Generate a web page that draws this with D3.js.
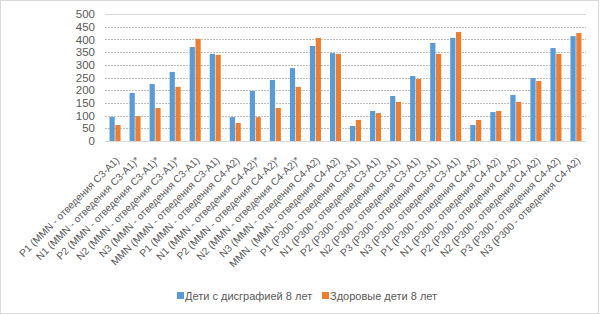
<!DOCTYPE html>
<html>
<head>
<meta charset="utf-8">
<script src="https://cdn.jsdelivr.net/npm/d3@7"></script>
<style>
html,body{margin:0;padding:0;background:#fff;}
svg{display:block;font-family:"Liberation Sans",Arial,sans-serif;}
</style>
</head>
<body>
<svg id="chart" width="600" height="315"></svg>
<script>
const categories = [
  "P1 (MMN - отведения C3-A1)",
  "N1 (MMN - отведения C3-A1)*",
  "P2 (MMN - отведения C3-A1)*",
  "N2 (MMN - отведения C3-A1)*",
  "N3 (MMN - отведения C3-A1)",
  "MMN (MMN - отведения C3-A1)",
  "P1 (MMN - отведения C4-A2)",
  "N1 (MMN - отведения C4-A2)*",
  "P2 (MMN - отведения C4-A2)*",
  "N2 (MMN - отведения C4-A2)*",
  "N3 (MMN - отведения C4-A2)",
  "MMN. (MMN - отведения C4-A2)",
  "P1 (P300 - отведения C3-A1)",
  "N1 (P300 - отведения C3-A1)",
  "P2 (P300 - отведения C3-A1)",
  "N2 (P300 - отведения C3-A1)",
  "P3 (P300 - отведения C3-A1)",
  "N3 (P300 - отведения C3-A1)",
  "P1 (P300 - отведения C4-A2)",
  "N1 (P300 - отведения C4-A2)",
  "P2 (P300 - отведения C4-A2)",
  "N2 (P300 - отведения C4-A2)",
  "P3 (P300 - отведения C4-A2)",
  "N3 (P300 - отведения C4-A2)"
];
const dysgraphia = [95, 189, 224, 272, 370, 343, 94, 197, 240, 287, 374, 346, 59, 118, 177, 256, 386, 406, 63, 114, 181, 248, 366, 413];
const healthy    = [63, 98, 130, 213, 402, 339, 71, 94, 130, 213, 406, 343, 83, 110, 154, 244, 343, 429, 83, 118, 154, 236, 343, 425];
const seriesNames = ["Дети с дисграфией 8 лет", "Здоровые дети 8 лет"];
const seriesColors = ["#5B9BD5", "#ED7D31"];
const yTicks = [0, 50, 100, 150, 200, 250, 300, 350, 400, 450, 500];

const svg = d3.select("#chart");
const W = 600, H = 315;
const plotLeft = 105, plotRight = 586, plotTop = 14, plotBottom = 141;

// outer frame
svg.append("rect").attr("x", 0.5).attr("y", 0.5).attr("width", W - 2).attr("height", H - 2)
  .attr("fill", "#fff").attr("stroke", "#d9d9d9").attr("stroke-width", 1);

const y = d3.scaleLinear().domain([0, 500]).range([plotBottom, plotTop]);
const x = d3.scaleBand().domain(categories).range([plotLeft, plotRight]).paddingInner(0.45).paddingOuter(0.225);
const x1 = d3.scaleBand().domain(seriesNames).range([0, x.bandwidth()]).paddingInner(0.1);

// gridlines
svg.append("g").selectAll("line").data(yTicks.filter(t => t > 0)).join("line")
  .attr("x1", plotLeft).attr("x2", plotRight)
  .attr("y1", d => Math.round(y(d)) + 0.5).attr("y2", d => Math.round(y(d)) + 0.5)
  .attr("stroke", d => d === 500 ? "#d9d9d9" : "#bfbfbf")
  .attr("stroke-width", 1)
  .attr("stroke-dasharray", d => d === 500 ? null : "2,1");

// y tick labels
const yAxis = d3.axisLeft(y).tickValues(yTicks).tickSize(0).tickPadding(0);
const yg = svg.append("g").attr("transform", `translate(${plotLeft - 10},0)`).call(yAxis);
yg.select(".domain").remove();
yg.selectAll("text").attr("fill", "#595959").attr("font-size", "11.5px")
  .attr("font-family", "'Liberation Sans', Arial, sans-serif");

// bars
const data = categories.map((c, i) => ({cat: c, vals: [dysgraphia[i], healthy[i]]}));
const groups = svg.append("g").selectAll("g").data(data).join("g")
  .attr("transform", d => `translate(${x(d.cat)},0)`);
groups.selectAll("rect").data(d => d.vals.map((v, j) => ({v, s: seriesNames[j], c: seriesColors[j]})))
  .join("rect")
  .attr("x", d => x1(d.s))
  .attr("width", x1.bandwidth())
  .attr("y", d => y(d.v))
  .attr("height", d => y(0) - y(d.v))
  .attr("fill", d => d.c);

// x axis line
svg.append("line").attr("x1", plotLeft).attr("x2", plotRight)
  .attr("y1", plotBottom + 0.5).attr("y2", plotBottom + 0.5)
  .attr("stroke", "#d9d9d9").attr("stroke-width", 1);

// x labels
svg.append("g").selectAll("text").data(categories).join("text")
  .attr("transform", d => `translate(${x(d) + x.bandwidth() / 2 + 5},161) rotate(-45)`)
  .attr("text-anchor", "end")
  .attr("font-size", "10.2px")
  .attr("fill", "#595959")
  .text(d => d);

// legend
const legendItems = [{x: 177, tx: 185}, {x: 322, tx: 330}];
const lg = svg.append("g");
seriesNames.forEach((n, i) => {
  lg.append("rect").attr("x", legendItems[i].x).attr("y", 292).attr("width", 7).attr("height", 7)
    .attr("fill", seriesColors[i]);
  lg.append("text").attr("x", legendItems[i].tx).attr("y", 299.5)
    .attr("font-size", "11px").attr("fill", "#595959").text(n);
});
</script>
</body>
</html>
